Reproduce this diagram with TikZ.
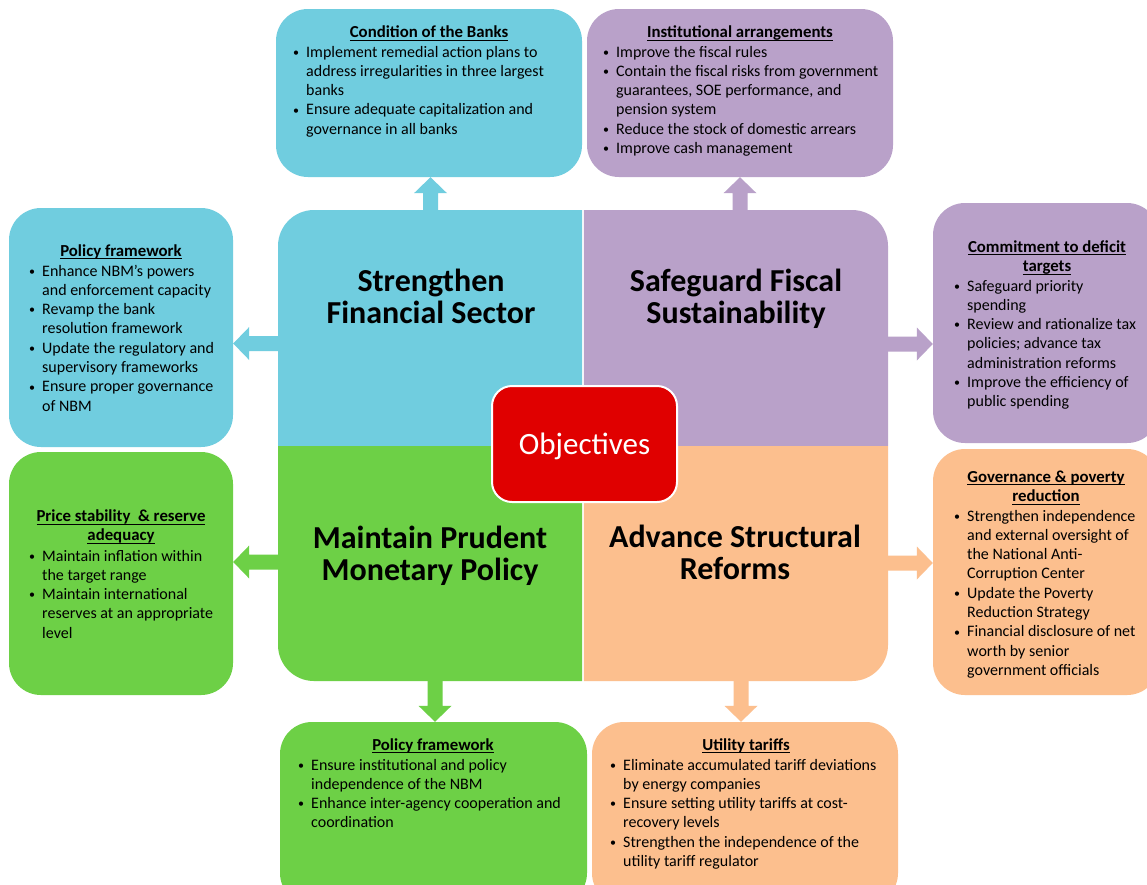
\documentclass[tikz,border=0pt]{standalone}
\usepackage{fontspec}
\setmainfont{Carlito}
\usetikzlibrary{calc}
\definecolor{cblue}{HTML}{70CDDF}
\definecolor{cpurple}{HTML}{B9A1C9}
\definecolor{cgreen}{HTML}{6DD046}
\definecolor{corange}{HTML}{FCBF8E}
\definecolor{cred}{HTML}{E00000}
\newcommand{\uln}[1]{\setbox0\hbox{#1}\rlap{\rule[-3.4pt]{\wd0}{1.2pt}}\box0}
\newcommand{\bul}{\makebox[13pt][l]{\raisebox{0.7pt}{\fontsize{12}{12}\selectfont\textbullet}}}
\newcommand{\blockarr}[3]{%
  \path (#2) coordinate (bs) (#3) coordinate (be);
  \path ($(be)!16pt!(bs)$) coordinate (bh);
  \fill[#1] ($(bs)!7.5pt!90:(be)$) -- ($(bh)!7.5pt!90:(be)$) -- ($(bh)!16.5pt!90:(be)$) -- (be)
    -- ($(bh)!16.5pt!-90:(be)$) -- ($(bh)!7.5pt!-90:(be)$) -- ($(bs)!7.5pt!-90:(be)$) -- cycle;}
\tikzset{
  rbox/.style={rectangle, rounded corners=32pt, inner sep=0pt, draw=none},
  quad/.style={rectangle, inner sep=0pt, draw=none},
  titletext/.style={anchor=base, inner sep=0pt, font=\fontsize{16.8}{19.3}\selectfont\bfseries},
  itemtext/.style={anchor=base west, inner sep=0pt, font=\fontsize{16}{19.3}\selectfont},
  quadtext/.style={anchor=base, inner sep=0pt, font=\fontsize{32}{32}\selectfont\bfseries},
  objbox/.style={rectangle, rounded corners=20pt, fill=cred, draw=white, line width=2pt,
    minimum width=185pt, minimum height=116pt, inner sep=0pt, text=white,
    font=\fontsize{31}{31}\selectfont, text height=20pt, text depth=0pt}
}
\begin{document}
\begin{tikzpicture}[x=1pt,y=-1pt]
\clip (0,0) rectangle (1147,884);
\fill[white] (0,0) rectangle (1147,884);
% quadrants
\node[quad, minimum width=304pt, minimum height=235pt] (fin) at (430,327.5) {};
\node[quad, minimum width=304pt, minimum height=235pt] (fis) at (736,327.5) {};
\node[quad, minimum width=304pt, minimum height=234pt] (mon) at (430,564) {};
\node[quad, minimum width=304pt, minimum height=234pt] (str) at (736,564) {};
\begin{scope}\clip (fin.north west) rectangle (fin.south east);
  \fill[cblue, rounded corners=36pt] (278,210) rectangle (888,681);\end{scope}
\begin{scope}\clip (fis.north west) rectangle (fis.south east);
  \fill[cpurple, rounded corners=36pt] (278,210) rectangle (888,681);\end{scope}
\begin{scope}\clip (mon.north west) rectangle (mon.south east);
  \fill[cgreen, rounded corners=36pt] (278,210) rectangle (888,681);\end{scope}
\begin{scope}\clip (str.north west) rectangle (str.south east);
  \fill[corange, rounded corners=36pt] (278,210) rectangle (888,681);\end{scope}
% outer boxes
\node[rbox, fill=cblue, minimum width=306pt, minimum height=168pt] (b1) at (429,93) {};
\node[rbox, fill=cpurple, minimum width=306pt, minimum height=168pt] (b2) at (740,93) {};
\node[rbox, fill=cblue, minimum width=224pt, minimum height=239pt] (b3) at (121,327.5) {};
\node[rbox, fill=cpurple, minimum width=226pt, minimum height=240pt] (b4) at (1046,323) {};
\node[rbox, fill=cgreen, minimum width=224pt, minimum height=243pt] (b5) at (121,573.5) {};
\node[rbox, fill=corange, minimum width=226pt, minimum height=246pt] (b6) at (1046,572) {};
\node[rbox, fill=cgreen, minimum width=307pt, minimum height=183pt] (b7) at (433.5,813.5) {};
\node[rbox, fill=corange, minimum width=306pt, minimum height=183pt] (b8) at (745,813.5) {};
% block arrows
\blockarr{cblue}{430.5,0 |- fin.north}{430.5,0 |- b1.south}
\blockarr{cpurple}{740,0 |- fis.north}{740,0 |- b2.south}
\blockarr{cblue}{fin.west |- 0,343.5}{b3.east |- 0,343.5}
\blockarr{cpurple}{fis.east |- 0,344}{b4.west |- 0,344}
\blockarr{cgreen}{mon.west |- 0,562}{b5.east |- 0,562}
\blockarr{corange}{str.east |- 0,563}{b6.west |- 0,563}
\blockarr{cgreen}{435,0 |- mon.south}{435,0 |- b7.north}
\blockarr{corange}{741,0 |- str.south}{741,0 |- b8.north}
% objectives
\node[objbox] (obj) at (584.5,444) {Objectives};
% quadrant titles
\node[quadtext] (q1) at (431,291) {\begin{tabular}[t]{@{}c@{}}Strengthen\\Financial Sector\end{tabular}};
\node[quadtext] (q2) at (736,291) {\begin{tabular}[t]{@{}c@{}}Safeguard Fiscal\\Sustainability\end{tabular}};
\node[quadtext] (q3) at (430,548) {\begin{tabular}[t]{@{}c@{}}Maintain Prudent\\Monetary Policy\end{tabular}};
\node[quadtext] (q4) at (735,547) {\begin{tabular}[t]{@{}c@{}}Advance Structural\\Reforms\end{tabular}};
% box titles
\node[titletext] (h1) at (429,37.5) {\uln{Condition of the Banks}};
\node[titletext] (h2) at (740,37.5) {\uln{Institutional arrangements}};
\node[titletext] (h3) at (121,256) {\uln{Policy framework}};
\node[titletext] (h4) at (1047,252) {\begin{tabular}[t]{@{}c@{}}\uln{Commitment to deficit}\\\uln{targets}\end{tabular}};
\node[titletext] (h5) at (121,521.5) {\begin{tabular}[t]{@{}c@{}}\uln{Price stability \ \& reserve}\\\uln{adequacy}\end{tabular}};
\node[titletext] (h6) at (1046,482) {\begin{tabular}[t]{@{}c@{}}\uln{Governance \& poverty}\\\uln{reduction}\end{tabular}};
\node[titletext] (h7) at (433,750) {\uln{Policy framework}};
\node[titletext] (h8) at (746,750) {\uln{Utility tariffs}};
% box items
\node[itemtext] (t1) at (293,57) {\begin{tabular}[t]{@{}l@{}l@{}}
\bul & Implement remedial action plans to\\
 & address irregularities in three largest\\
 & banks\\
\bul & Ensure adequate capitalization and\\
 & governance in all banks
\end{tabular}};
\node[itemtext] (t2) at (603,57) {\begin{tabular}[t]{@{}l@{}l@{}}
\bul & Improve the fiscal rules\\
\bul & Contain the fiscal risks from government\\
 & guarantees, SOE performance, and\\
 & pension system\\
\bul & Reduce the stock of domestic arrears\\
\bul & Improve cash management
\end{tabular}};
\node[itemtext] (t3) at (29,276) {\begin{tabular}[t]{@{}l@{}l@{}}
\bul & Enhance NBM's powers\\
 & and enforcement capacity\\
\bul & Revamp the bank\\
 & resolution framework\\
\bul & Update the regulatory and\\
 & supervisory frameworks\\
\bul & Ensure proper governance\\
 & of NBM
\end{tabular}};
\node[itemtext] (t4) at (954,291) {\begin{tabular}[t]{@{}l@{}l@{}}
\bul & Safeguard priority\\
 & spending\\
\bul & Review and rationalize tax\\
 & policies; advance tax\\
 & administration reforms\\
\bul & Improve the efficiency of\\
 & public spending
\end{tabular}};
\node[itemtext] (t5) at (29,561) {\begin{tabular}[t]{@{}l@{}l@{}}
\bul & Maintain inflation within\\
 & the target range\\
\bul & Maintain international\\
 & reserves at an appropriate\\
 & level
\end{tabular}};
\node[itemtext] (t6) at (954,521) {\begin{tabular}[t]{@{}l@{}l@{}}
\bul & Strengthen independence\\
 & and external oversight of\\
 & the National Anti-\\
 & Corruption Center\\
\bul & Update the Poverty\\
 & Reduction Strategy\\
\bul & Financial disclosure of net\\
 & worth by senior\\
 & government officials
\end{tabular}};
\node[itemtext] (t7) at (298,770) {\begin{tabular}[t]{@{}l@{}l@{}}
\bul & Ensure institutional and policy\\
 & independence of the NBM\\
\bul & Enhance inter-agency cooperation and\\
 & coordination
\end{tabular}};
\node[itemtext] (t8) at (610,770) {\begin{tabular}[t]{@{}l@{}l@{}}
\bul & Eliminate accumulated tariff deviations\\
 & by energy companies\\
\bul & Ensure setting utility tariffs at cost-\\
 & recovery levels\\
\bul & Strengthen the independence of the\\
 & utility tariff regulator
\end{tabular}};
\end{tikzpicture}
\end{document}
